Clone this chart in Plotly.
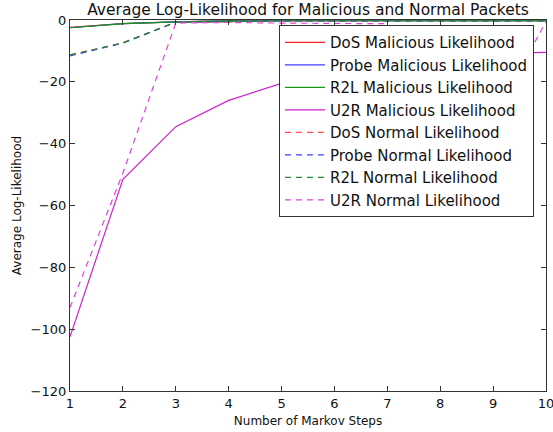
import plotly.graph_objects as go

steps = [1, 2, 3, 4, 5, 6, 7, 8, 9, 10]

dos_mal = [-2.4, -1.2, -0.6, -0.3, -0.25, -0.2, -0.2, -0.2, -0.2, -0.2]
probe_mal = [-2.5, -1.2, -0.6, -0.3, -0.25, -0.2, -0.2, -0.2, -0.2, -0.2]
r2l_mal = [-2.5, -1.2, -0.6, -0.3, -0.25, -0.2, -0.2, -0.2, -0.2, -0.2]
u2r_mal = [-102.5, -51.5, -34.5, -26.0, -20.5, -17.0, -14.0, -12.0, -10.8, -10.5]

dos_norm = [-11.3, -7.4, -0.7, -0.4, -0.3, -0.3, -0.3, -0.3, -0.3, -0.3]
probe_norm = [-11.6, -7.5, -0.7, -0.4, -0.3, -0.3, -0.3, -0.3, -0.3, -0.3]
r2l_norm = [-11.3, -7.4, -0.7, -0.4, -0.3, -0.3, -0.3, -0.3, -0.3, -0.3]
u2r_norm = [-93.0, -49.5, -1.0, -0.8, -1.0, -1.2, -1.2, -40.0, -32.0, -0.5]

names = [
    "DoS Malicious Likelihood", "Probe Malicious Likelihood",
    "R2L Malicious Likelihood", "U2R Malicious Likelihood",
    "DoS Normal Likelihood", "Probe Normal Likelihood",
    "R2L Normal Likelihood", "U2R Normal Likelihood",
]
series = [dos_mal, probe_mal, r2l_mal, u2r_mal, dos_norm, probe_norm, r2l_norm, u2r_norm]
colors = ["#ff2020", "#4040ff", "#119911", "#cc22cc",
          "#ff5050", "#4040ff", "#228833", "#dd44dd"]
dashes = ["solid"] * 4 + ["dash"] * 4

fig = go.Figure()
for name, ys, c, d in zip(names, series, colors, dashes):
    fig.add_trace(go.Scatter(x=steps, y=ys, mode="lines", name=name,
                             line=dict(color=c, width=1.2, dash=d if d == "solid" else "6px,5px")))

axis_common = dict(showline=True, linecolor="#333", linewidth=1.2, mirror="ticks",
                   ticks="inside", ticklen=5, tickcolor="#333", showgrid=False,
                   zeroline=False, automargin=False, tickfont=dict(size=13, color="#111"))

fig.update_layout(
    width=553, height=432,
    margin=dict(l=70, r=7, t=20, b=41),
    paper_bgcolor="white", plot_bgcolor="white",
    font=dict(family="DejaVu Sans", color="#111"),
    title=dict(text="Average Log-Likelihood for Malicious and Normal Packets",
               x=0.5, xref="paper", xanchor="center", y=0.977, yanchor="middle",
               font=dict(size=15.5), automargin=False),
    xaxis=dict(range=[1, 10], dtick=1, ticklabeloverflow="allow",
               title=dict(text="Number of Markov Steps", font=dict(size=12), standoff=6), **axis_common),
    yaxis=dict(range=[-120, 0], dtick=20,
               title=dict(text="Average Log-Likelihood", font=dict(size=12), standoff=6), **axis_common),
    legend=dict(x=0.439, y=0.986, xanchor="left", yanchor="top",
                bgcolor="white", bordercolor="#333", borderwidth=1,
                font=dict(size=15), tracegroupgap=0, itemwidth=40),
    showlegend=True,
)

fig.write_html("out.html", config={"displayModeBar": False},
               post_script="document.body.style.margin='0';")
